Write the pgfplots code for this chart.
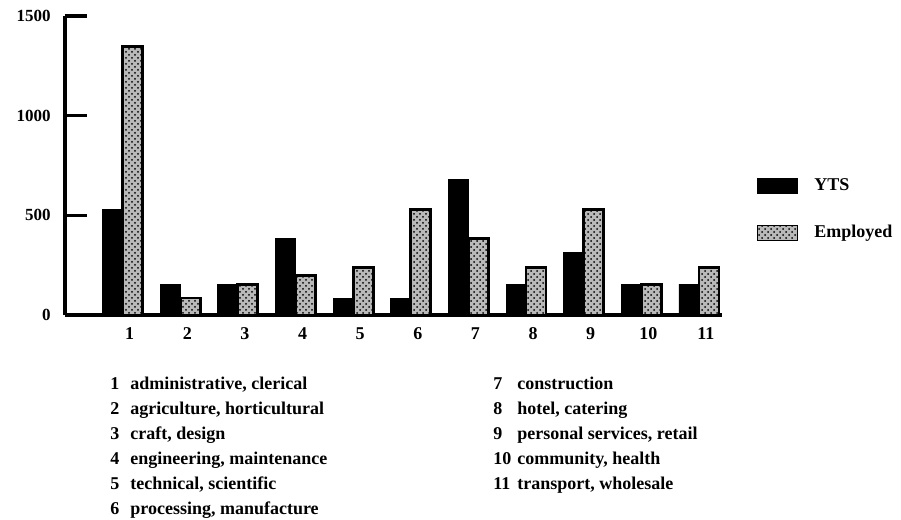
\documentclass[border=0pt]{standalone}
\usepackage{pgfplots}
\pgfplotsset{compat=1.18}
\usepackage{fontspec}
\setmainfont{Liberation Serif}
\usetikzlibrary{patterns}

\begin{document}
\begin{tikzpicture}
\fontsize{9}{12}\selectfont\bfseries
\path[use as bounding box] (-32.5pt,-102.5pt) rectangle (418pt,157.5pt);
\begin{axis}[
    scale only axis,
    width=328.5pt, height=149.5pt,
    at={(0,0)}, anchor=south west,
    ybar=0pt, bar width=10pt,
    xmin=0, xmax=11.4,
    ymin=0, ymax=1500,
    enlargelimits=false,
    axis x line*=bottom,
    axis y line*=left,
    axis line style={line width=1.8pt, black},
    xtick={1,2,3,4,5,6,7,8,9,10,11},
    xtick style={draw=none},
    xticklabel style={xshift=3.5pt, yshift=-3pt, font=\fontsize{9}{12}\selectfont\bfseries},
    ytick={0,500,1000,1500},
    ytick style={line width=1.6pt, black},
    tick align=inside,
    major tick length=11pt,
    yticklabel style={xshift=-4pt, font=\fontsize{8.5}{12}\selectfont\bfseries},
    /pgf/number format/assume math mode=true,
    /pgf/number format/set thousands separator={},
    legend style={at={(1.053,0.47)}, anchor=north west, draw=none, fill=none,
        inner sep=0pt, row sep=12pt,
        font=\fontsize{9}{12}\selectfont\bfseries,
        nodes={inner xsep=8pt}},
    legend cell align=left,
    legend image code/.code={\draw[#1, line width=0.6pt] (0pt,-3.75pt) rectangle (20pt,3.75pt);},
]
\addplot[fill=black, draw=black] coordinates {
    (1,530)(2,155)(3,155)(4,385)(5,85)(6,85)(7,680)(8,155)(9,315)(10,155)(11,155)
};
\addplot[fill=gray!55, draw=black, line width=1.4pt,
    postaction={pattern=crosshatch dots, pattern color=black}] coordinates {
    (1,1345)(2,85)(3,155)(4,200)(5,240)(6,530)(7,385)(8,240)(9,530)(10,155)(11,240)
};
\legend{YTS, Employed}
\end{axis}
% category key below the chart
\foreach \n/\t [count=\i from 0] in {1/{administrative, clerical},
    2/{agriculture, horticultural}, 3/{craft, design},
    4/{engineering, maintenance}, 5/{technical, scientific},
    6/{processing, manufacture}} {
  \node[anchor=base west, inner sep=0pt] at (22.5pt,-37pt-12.5pt*\i) {\n};
  \node[anchor=base west, inner sep=0pt] at (32.5pt,-37pt-12.5pt*\i) {\t};
}
\foreach \n/\t [count=\i from 0] in {7/construction, 8/{hotel, catering},
    9/{personal services, retail}, 10/{community, health},
    11/{transport, wholesale}} {
  \node[anchor=base west, inner sep=0pt] at (214pt,-37pt-12.5pt*\i) {\n};
  \node[anchor=base west, inner sep=0pt] at (226pt,-37pt-12.5pt*\i) {\t};
}
\end{tikzpicture}
\end{document}
